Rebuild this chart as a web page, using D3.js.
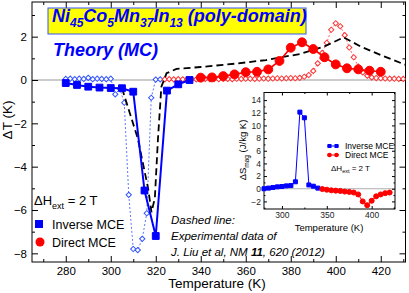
<!DOCTYPE html>
<html>
<head>
<meta charset="utf-8">
<script src="https://cdn.jsdelivr.net/npm/d3@7"></script>
<style>
body { margin: 0; background: #fff; }
text { font-family: Arial, "Liberation Sans", Helvetica, sans-serif; }
</style>
</head>
<body>
<div id="plot"></div>
<script>
// ---- data ----
// theory, poly-domain, filled markers (every 5 K)
var invT = [280, 285, 290, 295, 300, 305, 310, 315, 320, 325, 330, 335];
var invDT = [-0.14, -0.23, -0.31, -0.35, -0.37, -0.38, -0.54, -5.1, -7.2, -0.49, -0.2, 0.0];
var dirT = [340, 345, 350, 355, 360, 365, 370, 375, 380, 385, 390, 395, 400, 405, 410, 415, 420];
var dirDT = [0.11, 0.12, 0.18, 0.26, 0.36, 0.38, 0.49, 0.88, 1.49, 1.74, 1.43, 1.05, 0.72, 0.54, 0.49, 0.43, 0.38];
// theory, open diamonds, thin dashed (every 2 K)
var invDiaT = [280, 282, 284, 286, 288, 290, 292, 294, 296, 298, 300, 302, 304, 306, 308, 310, 312, 314, 316, 318, 320, 322];
var invDiaDT = [0.05, 0.06, 0.04, 0.06, 0.05, 0.1, 0.04, 0.06, 0.05, 0.04, 0.06, -0.66, -0.4, -1.05, -5.3, -7.8, -7.85, -7.33, -6.15, -0.82, 0.02, 0.03];
var dirDiaT = [324, 326, 328, 330, 332, 334, 336, 338, 340, 342, 344, 346, 348, 350, 352, 354, 356, 358, 360, 362, 364, 366, 368, 370, 372, 374, 376, 378, 380, 382, 384, 386, 388, 390, 392, 394, 396, 398, 400, 402, 404, 406, 408, 410, 412, 414, 416, 418, 420, 422, 424, 426, 428, 430];
var dirDiaDT = [0.03, 0.04, 0.03, 0.04, 0.03, 0.04, 0.04, 0.03, 0.04, 0.05, 0.04, 0.05, 0.04, 0.05, 0.05, 0.04, 0.06, 0.05, 0.06, 0.06, 0.05, 0.06, 0.07, 0.06, 0.07, 0.08, 0.07, 0.08, 0.09, 0.08, 0.1, 0.15, 0.23, 0.42, 0.77, 1.25, 1.72, 2.32, 2.62, 2.48, 2.07, 1.5, 1.05, 0.62, 0.35, 0.2, 0.12, 0.09, 0.08, 0.07, 0.06, 0.06, 0.05, 0.05];
// experiment (J. Liu et al.), black dashed
var expT = [305, 312, 316.6, 318.1, 319.6, 321, 322.5, 324.8, 329.2, 340, 355, 369, 384, 395, 403.5, 411, 420, 431];
var expDT = [-0.38, -2.69, -5.0, -6.1, -5.45, -2.69, -0.31, 0.31, 0.51, 0.6, 0.75, 0.92, 1.2, 1.55, 1.97, 1.55, 1.15, 0.7];
// inset: magnetic entropy change
var insInvT = [280, 285, 290, 295, 300, 305, 310, 315, 320, 325, 330, 335, 340];
var insInvDS = [0.0, 0.1, 0.2, 0.3, 0.35, 0.45, 0.5, 1.1, 12.1, 11.2, 0.6, 0.4, 0.1];
var insDirT = [345, 350, 355, 360, 365, 370, 375, 380, 385, 390, 395, 400, 405, 410, 415, 420];
var insDirDS = [-0.05, -0.15, -0.25, -0.3, -0.35, -0.45, -0.5, -0.6, -0.9, -2.0, -2.6, -1.9, -1.2, -0.9, -0.7, -0.6];

var xTicks = [280, 300, 320, 340, 360, 380, 400, 420];
var yTicks = [-8, -6, -4, -2, 0, 2];
var insXTicks = [300, 350, 400];
var insYTicks = [-2, 0, 2, 4, 6, 8, 10, 12, 14];

//setup
var width = 409, height = 293;
var blue = "#0000ff", red = "#ff0000";

var svg = d3.select("#plot").append("svg")
	.attr("width", width)
	.attr("height", height);

var x = d3.scaleLinear().domain([265, 431]).range([32, 405.5]);
var y = d3.scaleLinear().domain([-8.4, 3.6]).range([262, 2]);

//zero line
svg.append("line")
	.attr("x1", x.range()[0]).attr("x2", x.range()[1])
	.attr("y1", y(0)).attr("y2", y(0))
	.attr("stroke", "#999").attr("stroke-width", 1);

//axes, ticks inward, mirrored
function addAxes(g, xs, ys, xt, yt, xMinor, yMinor, fs, tl, pad) {
	g.append("g").attr("transform", "translate(0," + ys.range()[0] + ")")
		.call(d3.axisBottom(xs).tickValues(xt).tickSizeInner(-tl).tickSizeOuter(0).tickPadding(pad));
	g.append("g").attr("transform", "translate(0," + ys.range()[1] + ")")
		.call(d3.axisTop(xs).tickValues(xt).tickSizeInner(-tl).tickSizeOuter(0).tickFormat(""));
	g.append("g").attr("transform", "translate(" + xs.range()[0] + ",0)")
		.call(d3.axisLeft(ys).tickValues(yt).tickSizeInner(-tl).tickSizeOuter(0).tickPadding(pad));
	g.append("g").attr("transform", "translate(" + xs.range()[1] + ",0)")
		.call(d3.axisRight(ys).tickValues(yt).tickSizeInner(-tl).tickSizeOuter(0).tickFormat(""));
	g.append("g").attr("transform", "translate(0," + ys.range()[0] + ")")
		.call(d3.axisBottom(xs).tickValues(xMinor).tickSizeInner(-tl / 2).tickSizeOuter(0).tickFormat(""));
	g.append("g").attr("transform", "translate(0," + ys.range()[1] + ")")
		.call(d3.axisTop(xs).tickValues(xMinor).tickSizeInner(-tl / 2).tickSizeOuter(0).tickFormat(""));
	g.append("g").attr("transform", "translate(" + xs.range()[0] + ",0)")
		.call(d3.axisLeft(ys).tickValues(yMinor).tickSizeInner(-tl / 2).tickSizeOuter(0).tickFormat(""));
	g.append("g").attr("transform", "translate(" + xs.range()[1] + ",0)")
		.call(d3.axisRight(ys).tickValues(yMinor).tickSizeInner(-tl / 2).tickSizeOuter(0).tickFormat(""));
	g.selectAll(".domain").remove();
	g.selectAll(".tick line").attr("stroke", "#000");
	g.selectAll(".tick text").attr("font-size", fs).attr("fill", "#000")
		.attr("font-family", "Arial, 'Liberation Sans', sans-serif");
	g.append("rect")
		.attr("x", xs.range()[0]).attr("y", ys.range()[1])
		.attr("width", xs.range()[1] - xs.range()[0])
		.attr("height", ys.range()[0] - ys.range()[1])
		.attr("fill", "none").attr("stroke", "#000").attr("stroke-width", 1);
}

addAxes(svg.append("g"), x, y, xTicks, yTicks,
	d3.range(270, 431, 20), d3.range(-7, 4, 2), 11.5, 6, 5);

//axis titles
svg.append("text")
	.attr("x", 217).attr("y", 288)
	.attr("text-anchor", "middle").attr("font-size", 13.5)
	.text("Temperature (K)");
svg.append("text")
	.attr("transform", "translate(12,120) rotate(-90)")
	.attr("text-anchor", "middle").attr("font-size", 13.5)
	.text("ΔT (K)");

var clip = svg.append("clipPath").attr("id", "clipMain").append("rect")
	.attr("x", 32).attr("y", 2).attr("width", 373.5).attr("height", 260);
var plotG = svg.append("g").attr("clip-path", "url(#clipMain)");

function series(g, xs, ys, xv, yv, opt) {
	var pts = xv.map(function (d, i) { return [d, yv[i]]; });
	var line = d3.line().x(function (d) { return xs(d[0]); }).y(function (d) { return ys(d[1]); });
	g.append("path").datum(pts)
		.attr("d", line)
		.attr("fill", "none")
		.attr("stroke", opt.color)
		.attr("stroke-width", opt.lw)
		.attr("stroke-dasharray", opt.dash || null);
	if (!opt.marker) return;
	var sym = d3.symbol().type(opt.marker).size(opt.size);
	g.selectAll(null).data(pts).enter().append("path")
		.attr("transform", function (d) { return "translate(" + xs(d[0]) + "," + ys(d[1]) + ")" + (opt.rot ? " rotate(45)" : ""); })
		.attr("d", sym)
		.attr("fill", opt.fill)
		.attr("stroke", opt.color)
		.attr("stroke-width", opt.sw || 1);
}

series(plotG, x, y, invDiaT, invDiaDT, { color: "#3355ff", lw: 0.8, dash: "2,2", marker: d3.symbolSquare, rot: true, size: 14, fill: "#fff", sw: 1 });
series(plotG, x, y, dirDiaT, dirDiaDT, { color: "#ff3333", lw: 0.8, dash: "2,2", marker: d3.symbolSquare, rot: true, size: 14, fill: "#fff", sw: 1 });
series(plotG, x, y, expT, expDT, { color: "#000", lw: 1.8, dash: "7,4" });
series(plotG, x, y, invT, invDT, { color: blue, lw: 2, marker: d3.symbolSquare, size: 46, fill: blue, sw: 0 });
series(plotG, x, y, dirT, dirDT, { color: red, lw: 1.6, marker: d3.symbolCircle, size: 62, fill: red, sw: 0 });

//title box
svg.append("rect")
	.attr("x", 48).attr("y", 8).attr("width", 258).attr("height", 26)
	.attr("fill", "#ffff00").attr("stroke", "#3355ff").attr("stroke-width", 1);
var title = svg.append("text")
	.attr("x", 52).attr("y", 27)
	.attr("font-size", 18).attr("font-weight", "bold").attr("font-style", "italic")
	.attr("fill", blue);
[["Ni", false], ["45", true], ["Co", false], ["5", true], ["Mn", false], ["37", true], ["In", false], ["13", true], [" (poly-domain)", false]]
	.forEach(function (p) {
		title.append("tspan")
			.attr("font-size", p[1] ? 12 : 18)
			.attr("dy", p[1] ? 5 : (title.selectAll("tspan").size() ? -5 : 0))
			.text(p[0]);
	});
svg.append("text")
	.attr("x", 53).attr("y", 56)
	.attr("font-size", 18).attr("font-weight", "bold").attr("font-style", "italic")
	.attr("fill", blue).text("Theory (MC)");

//legend
var dh = svg.append("text").attr("x", 34).attr("y", 205).attr("font-size", 13);
dh.append("tspan").text("ΔH");
dh.append("tspan").attr("font-size", 9).attr("dy", 4).text("ext");
dh.append("tspan").attr("dy", -4).text(" = 2 T");
svg.append("rect").attr("x", 35).attr("y", 220).attr("width", 8).attr("height", 8).attr("fill", blue);
svg.append("text").attr("x", 52).attr("y", 229).attr("font-size", 12.5).text("Inverse MCE");
svg.append("circle").attr("cx", 40).attr("cy", 242).attr("r", 4.5).attr("fill", red);
svg.append("text").attr("x", 52).attr("y", 247).attr("font-size", 12.5).text("Direct MCE");

//note
svg.append("text").attr("x", 171).attr("y", 224).attr("font-size", 11.5).attr("font-style", "italic").text("Dashed line:");
svg.append("text").attr("x", 171).attr("y", 240).attr("font-size", 11.5).attr("font-style", "italic").text("Experimental data of");
var ref = svg.append("text").attr("x", 171).attr("y", 256).attr("font-size", 11.5).attr("font-style", "italic");
ref.append("tspan").text("J. Liu et al, NM ");
ref.append("tspan").attr("font-weight", "bold").text("11");
ref.append("tspan").text(", 620 (2012)");

//inset
var ix = d3.scaleLinear().domain([280, 426]).range([264, 395]);
var iy = d3.scaleLinear().domain([-3.2, 15.2]).range([209, 92.5]);
var ins = svg.append("g");
ins.append("rect").attr("x", 264).attr("y", 92.5).attr("width", 131).attr("height", 116.5).attr("fill", "#fff");
ins.append("line")
	.attr("x1", ix.range()[0]).attr("x2", ix.range()[1])
	.attr("y1", iy(0)).attr("y2", iy(0))
	.attr("stroke", "#999").attr("stroke-width", 0.8);
addAxes(ins, ix, iy, insXTicks, insYTicks, d3.range(325, 426, 50), d3.range(-3, 15, 2), 8.5, 3, 3);
ins.selectAll(".tick text").attr("fill", "#222");
series(ins, ix, iy, insInvT, insInvDS, { color: blue, lw: 1, marker: d3.symbolSquare, size: 16, fill: blue, sw: 0 });
series(ins, ix, iy, insDirT, insDirDS, { color: red, lw: 1, marker: d3.symbolCircle, size: 20, fill: red, sw: 0 });
ins.append("text").attr("x", 329).attr("y", 231).attr("text-anchor", "middle").attr("font-size", 9.5).text("Temperature (K)");
var dsl = ins.append("text").attr("transform", "translate(246,150) rotate(-90)").attr("text-anchor", "middle").attr("font-size", 9.5);
dsl.append("tspan").text("ΔS");
dsl.append("tspan").attr("font-size", 6.5).attr("dy", 2.5).text("mag");
dsl.append("tspan").attr("dy", -2.5).text(" (J/kg K)");
//inset legend
ins.append("line").attr("x1", 327).attr("x2", 339).attr("y1", 146).attr("y2", 146).attr("stroke", blue).attr("stroke-width", 1);
ins.append("rect").attr("x", 327.5).attr("y", 144).attr("width", 4).attr("height", 4).attr("fill", blue);
ins.append("rect").attr("x", 334.5).attr("y", 144).attr("width", 4).attr("height", 4).attr("fill", blue);
ins.append("text").attr("x", 345).attr("y", 149).attr("font-size", 8.5).text("Inverse MCE");
ins.append("line").attr("x1", 327).attr("x2", 339).attr("y1", 155).attr("y2", 155).attr("stroke", red).attr("stroke-width", 1);
ins.append("circle").attr("cx", 329.5).attr("cy", 155).attr("r", 2.3).attr("fill", red);
ins.append("circle").attr("cx", 336.5).attr("cy", 155).attr("r", 2.3).attr("fill", red);
ins.append("text").attr("x", 345).attr("y", 158).attr("font-size", 8.5).text("Direct MCE");
var idh = ins.append("text").attr("x", 331).attr("y", 171).attr("font-size", 8);
idh.append("tspan").text("ΔH");
idh.append("tspan").attr("font-size", 5.5).attr("dy", 2).text("ext");
idh.append("tspan").attr("dy", -2).text(" = 2 T");
</script>
</body>
</html>
